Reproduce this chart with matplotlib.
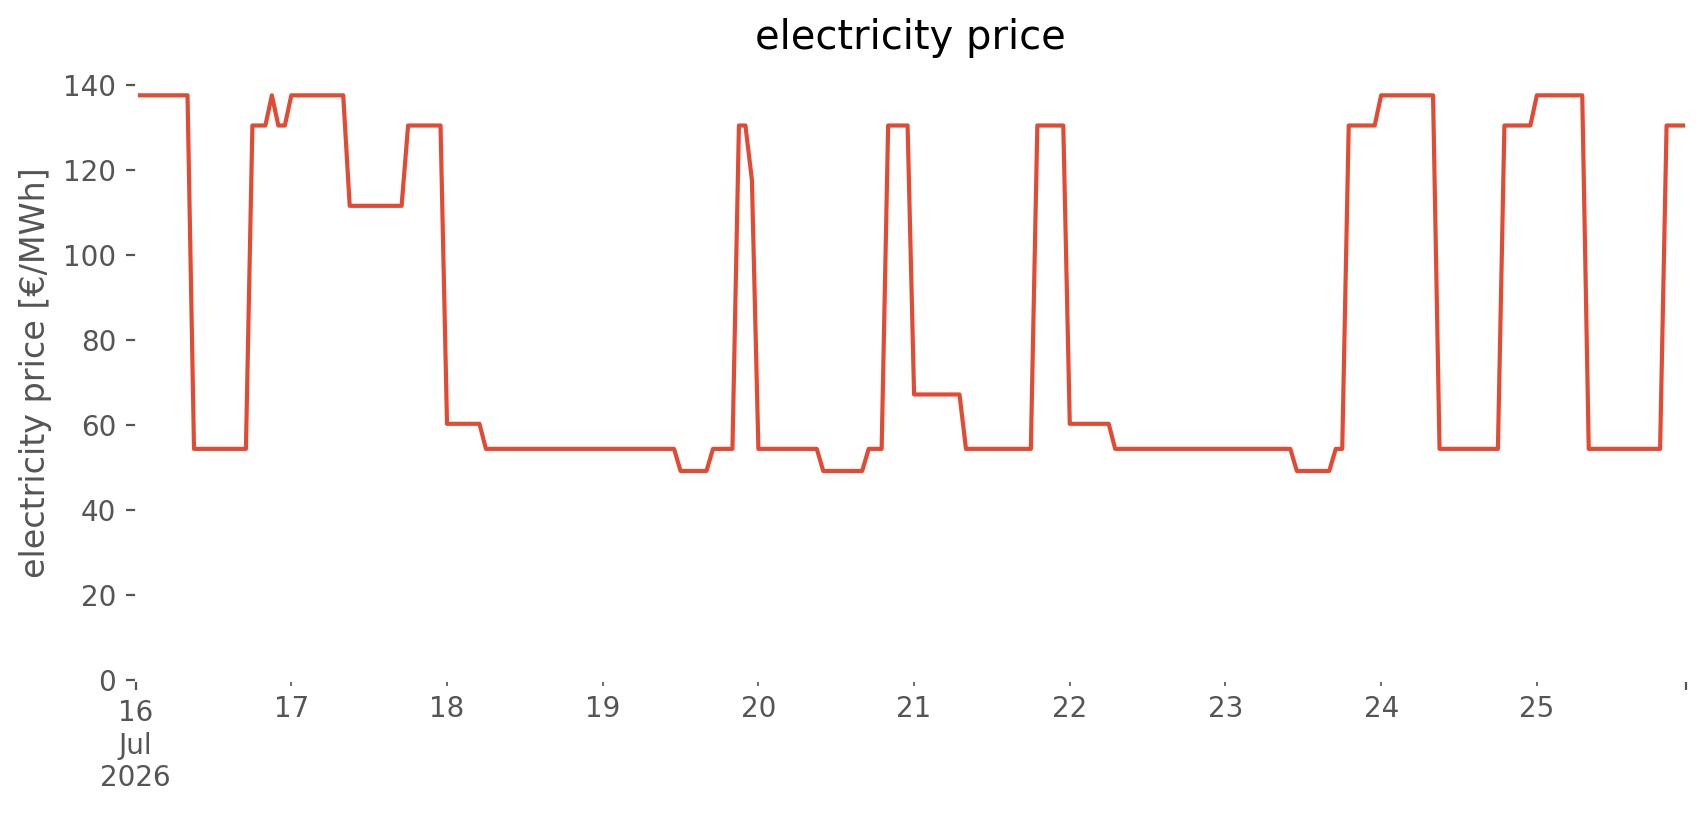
import numpy as np
import pandas as pd
from matplotlib import pyplot as plt

plt.style.use("ggplot")

# hourly prices, one row per day (16 Jul .. 25 Jul 2026)
price_day16 = [137.6, 137.6, 137.6, 137.6, 137.6, 137.6, 137.6, 137.6, 137.6, 54.4, 54.4, 54.4,
               54.4, 54.4, 54.4, 54.4, 54.4, 54.4, 130.5, 130.5, 130.5, 137.6, 130.5, 130.5]
price_day17 = [137.6, 137.6, 137.6, 137.6, 137.6, 137.6, 137.6, 137.6, 137.6, 111.6, 111.6, 111.6,
               111.6, 111.6, 111.6, 111.6, 111.6, 111.6, 130.5, 130.5, 130.5, 130.5, 130.5, 130.5]
price_day18 = [60.3, 60.3, 60.3, 60.3, 60.3, 60.3, 54.4, 54.4, 54.4, 54.4, 54.4, 54.4,
               54.4, 54.4, 54.4, 54.4, 54.4, 54.4, 54.4, 54.4, 54.4, 54.4, 54.4, 54.4]
price_day19 = [54.4, 54.4, 54.4, 54.4, 54.4, 54.4, 54.4, 54.4, 54.4, 54.4, 54.4, 54.4,
               49.2, 49.2, 49.2, 49.2, 49.2, 54.4, 54.4, 54.4, 54.4, 130.5, 130.5, 117.7]
price_day20 = [54.4, 54.4, 54.4, 54.4, 54.4, 54.4, 54.4, 54.4, 54.4, 54.4, 49.2, 49.2,
               49.2, 49.2, 49.2, 49.2, 49.2, 54.4, 54.4, 54.4, 130.5, 130.5, 130.5, 130.5]
price_day21 = [67.2, 67.2, 67.2, 67.2, 67.2, 67.2, 67.2, 67.2, 54.4, 54.4, 54.4, 54.4,
               54.4, 54.4, 54.4, 54.4, 54.4, 54.4, 54.4, 130.5, 130.5, 130.5, 130.5, 130.5]
price_day22 = [60.3, 60.3, 60.3, 60.3, 60.3, 60.3, 60.3, 54.4, 54.4, 54.4, 54.4, 54.4,
               54.4, 54.4, 54.4, 54.4, 54.4, 54.4, 54.4, 54.4, 54.4, 54.4, 54.4, 54.4]
price_day23 = [54.4, 54.4, 54.4, 54.4, 54.4, 54.4, 54.4, 54.4, 54.4, 54.4, 54.4, 49.2,
               49.2, 49.2, 49.2, 49.2, 49.2, 54.4, 54.4, 130.5, 130.5, 130.5, 130.5, 130.5]
price_day24 = [137.6, 137.6, 137.6, 137.6, 137.6, 137.6, 137.6, 137.6, 137.6, 54.4, 54.4, 54.4,
               54.4, 54.4, 54.4, 54.4, 54.4, 54.4, 54.4, 130.5, 130.5, 130.5, 130.5, 130.5]
price_day25 = [137.6, 137.6, 137.6, 137.6, 137.6, 137.6, 137.6, 137.6, 54.4, 54.4, 54.4, 54.4,
               54.4, 54.4, 54.4, 54.4, 54.4, 54.4, 54.4, 54.4, 130.5, 130.5, 130.5, 130.5]

prices = (price_day16 + price_day17 + price_day18 + price_day19 + price_day20
          + price_day21 + price_day22 + price_day23 + price_day24 + price_day25)
hours = pd.date_range("2026-07-16 00:00", periods=len(prices), freq="h")
price = pd.Series(prices, index=hours, name="electricity price")

fig = plt.figure(figsize=(8.53, 4.075), dpi=200)
ax = fig.add_axes([0.0795, 0.1656, 0.9088, 0.7534])
ax.set_facecolor("white")
ax.grid(False)

price.plot(ax=ax)

ax.set_ylim(0, 144.5)
ax.set_title("electricity price")
ax.set_ylabel("electricity price [€/MWh]")
ax.set_xlabel("")

fig.savefig("out.png", dpi=200, facecolor="white")
